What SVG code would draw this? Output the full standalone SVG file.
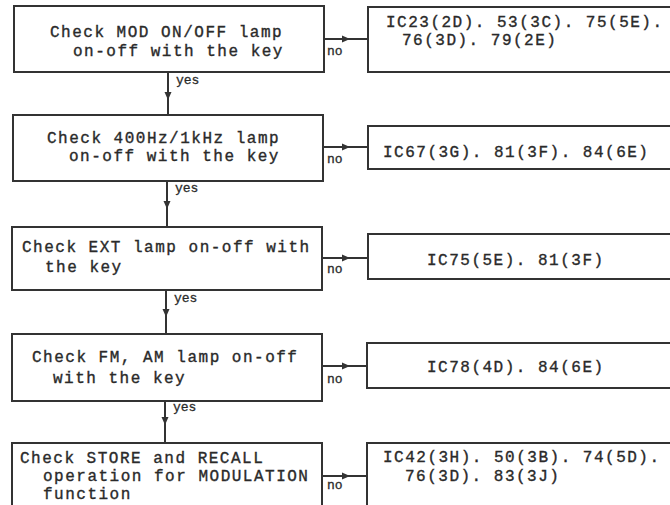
<svg xmlns="http://www.w3.org/2000/svg" width="670" height="505" viewBox="0 0 670 505">
<style>
.box{fill:#fff;stroke:#333;stroke-width:2}
.t{font-family:"Liberation Mono",monospace;font-size:16px;letter-spacing:1.5px;fill:#2a2a2a;stroke:#2a2a2a;stroke-width:0.35}
.s{font-family:"Liberation Mono",monospace;font-size:13px;fill:#2a2a2a;stroke:#2a2a2a;stroke-width:0.3}
.c{stroke:#333;stroke-width:2;fill:none}
</style>
<defs>
<marker id="ar" markerWidth="8" markerHeight="8" refX="4" refY="4" orient="auto" markerUnits="userSpaceOnUse">
<path d="M0,0.5 L8,4 L0,7.5 Z" fill="#333"/>
</marker>
</defs>
<rect width="670" height="505" fill="#fff"/>
<g id="connectors">
<path class="c" d="M323,39 H346" marker-end="url(#ar)"/><path class="c" d="M346,39 H368"/>
<path class="c" d="M323,147 H346" marker-end="url(#ar)"/><path class="c" d="M346,147 H368"/>
<path class="c" d="M322,258 H346" marker-end="url(#ar)"/><path class="c" d="M346,258 H368"/>
<path class="c" d="M322,366 H346" marker-end="url(#ar)"/><path class="c" d="M346,366 H368"/>
<path class="c" d="M322,476 H346" marker-end="url(#ar)"/><path class="c" d="M346,476 H368"/>
<path class="c" d="M168,72 V96" marker-end="url(#ar)"/><path class="c" d="M168,96 V115"/>
<path class="c" d="M167,181 V205" marker-end="url(#ar)"/><path class="c" d="M167,205 V227"/>
<path class="c" d="M166,290 V313" marker-end="url(#ar)"/><path class="c" d="M166,313 V334"/>
<path class="c" d="M165,401 V421" marker-end="url(#ar)"/><path class="c" d="M165,421 V443"/>
<text class="s" x="327" y="55">no</text>
<text class="s" x="327" y="163">no</text>
<text class="s" x="327" y="273">no</text>
<text class="s" x="327" y="383">no</text>
<text class="s" x="327" y="489">no</text>
<text class="s" x="176" y="84">yes</text>
<text class="s" x="175" y="192">yes</text>
<text class="s" x="174" y="302">yes</text>
<text class="s" x="173" y="411">yes</text>
</g>
<g id="n1"><rect class="box" x="14" y="6" width="310" height="66"/>
<text class="t" x="50" y="37">Check MOD ON/OFF lamp</text>
<text class="t" x="73" y="56">on-off with the key</text></g>
<g id="r1"><rect class="box" x="368" y="7" width="320" height="65"/>
<text class="t" x="386" y="27">IC23(2D). 53(3C). 75(5E).</text>
<text class="t" x="402" y="45">76(3D). 79(2E)</text></g>
<g id="n2"><rect class="box" x="13" y="115" width="310" height="66"/>
<text class="t" x="47" y="143">Check 400Hz/1kHz lamp</text>
<text class="t" x="69" y="161">on-off with the key</text></g>
<g id="r2"><rect class="box" x="368" y="126" width="320" height="43"/>
<text class="t" x="383" y="157">IC67(3G). 81(3F). 84(6E)</text></g>
<g id="n3"><rect class="box" x="12" y="227" width="310" height="63"/>
<text class="t" x="22" y="252">Check EXT lamp on-off with</text>
<text class="t" x="45" y="272">the key</text></g>
<g id="r3"><rect class="box" x="368" y="234" width="320" height="45"/>
<text class="t" x="427" y="265">IC75(5E). 81(3F)</text></g>
<g id="n4"><rect class="box" x="12" y="334" width="310" height="67"/>
<text class="t" x="32" y="362">Check FM, AM lamp on-off</text>
<text class="t" x="53" y="383">with the key</text></g>
<g id="r4"><rect class="box" x="367" y="343" width="320" height="45"/>
<text class="t" x="427" y="372">IC78(4D). 84(6E)</text></g>
<g id="n5"><rect class="box" x="12" y="443" width="310" height="80"/>
<text class="t" x="20" y="463">Check STORE and RECALL</text>
<text class="t" x="43" y="481">operation for MODULATION</text>
<text class="t" x="43" y="499">function</text></g>
<g id="r5"><rect class="box" x="367" y="443" width="320" height="80"/>
<text class="t" x="383" y="462">IC42(3H). 50(3B). 74(5D).</text>
<text class="t" x="405" y="481">76(3D). 83(3J)</text></g>
</svg>
